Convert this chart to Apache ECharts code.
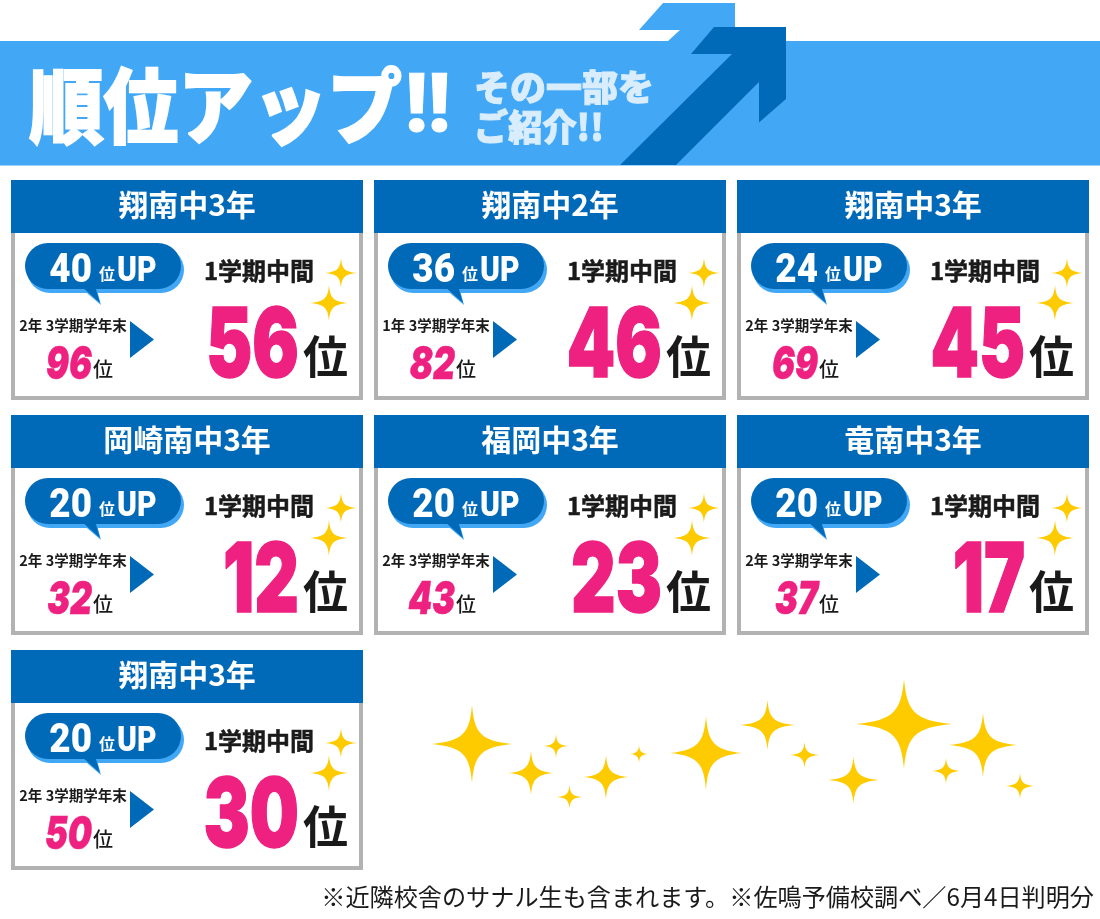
<!DOCTYPE html>
<html>
<head>
<meta charset="utf-8">
<title>順位アップ</title>
<script src="https://cdn.jsdelivr.net/npm/echarts@6/dist/echarts.min.js"></script>
<style>
  html, body { margin: 0; padding: 0; background: #fff; }
  #chart { width: 1100px; height: 919px; }
</style>
</head>
<body>
<div id="chart"></div>
<script>
// card contents
const schools = ['翔南中3年', '翔南中2年', '翔南中3年', '岡崎南中3年', '福岡中3年', '竜南中3年', '翔南中3年'];
const prevTerms = ['2年 3学期学年末', '1年 3学期学年末', '2年 3学期学年末', '2年 3学期学年末', '2年 3学期学年末', '2年 3学期学年末', '2年 3学期学年末'];
const upRanks = [40, 36, 24, 20, 20, 20, 20];
const prevRanks = [96, 82, 69, 32, 43, 37, 50];
const currentRanks = [56, 46, 45, 12, 23, 17, 30];
const currentTerm = '1学期中間';

const titleText = '順位アップ';
const titleMark = '!!';
const subTitleLines = ['その一部を', 'ご紹介!!'];
const footnote = '※近隣校舎のサナル生も含まれます。※佐鳴予備校調べ／6月4日判明分';

const BLUE = '#0069b8';
const LIGHT = '#42a8f6';
const PINK = '#ee2080';
const INK = '#1a1a1a';
const GOLD = '#fecb00';
const PALE = '#d9edfc';
const CJK = '"Noto Sans CJK JP", "Noto Sans", sans-serif';
const NUM = 'Roboto, "Noto Sans CJK JP", sans-serif';
const BIG = 'Inter, Roboto, sans-serif';
const STAR = 'path://M0,-100 C6,-30 20,-8 100,0 C20,8 6,30 0,100 C-6,30 -20,8 -100,0 C-20,-8 -6,-30 0,-100 Z';

// decoration only: [x, y, half width, half height]
const looseStars = [
    [472, 744, 40, 39], [556, 746, 12, 12], [531, 773, 23, 22], [569.5, 797, 12.5, 12],
    [606, 777, 23, 22], [639, 754, 9.5, 9], [706, 753, 36, 37], [767.5, 725, 27, 25],
    [804.5, 755, 14.5, 13], [853.5, 780, 25, 23.5], [904, 724, 48, 45], [983, 745, 34, 32],
    [946, 771, 14, 13], [1020, 786, 14, 13]
];

function cardOrigin(i) {
    return [11 + 363 * (i % 3), 180 + 235 * Math.floor(i / 3)];
}

// sparkles beside the current term label of each card
const cardStars = [];
schools.forEach((s, i) => {
    const o = cardOrigin(i);
    cardStars.push([o[0] + 330, o[1] + 93, 16, 15]);
    cardStars.push([o[0] + 318, o[1] + 123, 19, 18]);
});

function label(x, y, text, font, fill, align, sx, bold) {
    return {
        type: 'text',
        x: x,
        y: y,
        scaleX: sx || 1,
        style: {
            text: text, x: 0, y: 0, font: font, fill: fill,
            stroke: bold ? fill : null, lineWidth: bold || 0,
            align: align || 'center', verticalAlign: 'middle'
        }
    };
}

function poly(points, fill) {
    return { type: 'polygon', shape: { points: points }, style: { fill: fill } };
}

function renderCard(params, api) {
    const i = api.value(0);
    const o = cardOrigin(i);
    const p = api.coord(o);
    const x = p[0];
    const y = p[1];
    const at = (dx, dy) => [x + dx, y + dy];
    const font = (size, weight) => (weight || 700) + ' ' + size + 'px ' + CJK;
    const num = (size) => '900 ' + size + 'px ' + NUM;
    const big = (size, style) => (style ? style + ' ' : '') + '900 ' + size + 'px ' + BIG;

    return {
        type: 'group',
        children: [
            // frame and header
            { type: 'rect', shape: { x: x + 2, y: y + 40, width: 348, height: 178 }, style: { fill: '#fff', stroke: '#b2b2b2', lineWidth: 4 } },
            { type: 'rect', shape: { x: x, y: y, width: 352, height: 53 }, style: { fill: BLUE } },
            label(x + 176, y + 25, schools[i], font(30), '#fff'),

            // speech bubble
            { type: 'rect', shape: { x: x + 16, y: y + 67, width: 157, height: 46, r: 24 }, style: { fill: LIGHT } },
            poly([at(70, 108), at(90, 125), at(86, 110)], LIGHT),
            { type: 'rect', shape: { x: x + 14, y: y + 63, width: 156, height: 46, r: 24 }, style: { fill: BLUE } },
            poly([at(70, 106), at(89, 123), at(84, 106)], BLUE),
            label(x + 81, y + 92, String(upRanks[i]), num(40), '#fff', 'right', 0.92),
            label(x + 88, y + 94, '位', font(16), '#fff', 'left'),
            label(x + 106, y + 92, 'UP', num(35), '#fff', 'left', 0.86),

            // previous rank
            label(x + 62, y + 145, prevTerms[i], font(14.5), INK),
            poly([at(119, 141), at(119, 178), at(143, 159.5)], BLUE),
            label(x + 81, y + 185, String(prevRanks[i]), big(46, 'italic'), PINK, 'right', 0.74, 0.5),
            label(x + 82, y + 189, '位', font(20, 500), INK, 'left'),

            // current rank
            label(x + 248, y + 91, currentTerm, font(24), INK, 'center', 1, 0.5),
            label(x + 288, y + 168, String(currentRanks[i]), big(96), PINK, 'right', 0.72, 1.5),
            label(x + 292, y + 177, '位', font(45), INK, 'left')
        ]
    };
}

function banner(x, y, text, font, fill, sx, bold) {
    return {
        type: 'text', z: 3, x: x, y: y, scaleX: sx || 1,
        style: {
            text: text, font: font, fill: fill, stroke: bold ? fill : null, lineWidth: bold || 0,
            align: 'left', verticalAlign: 'middle'
        }
    };
}

const chart = echarts.init(document.getElementById('chart'));

chart.setOption({
    backgroundColor: '#fff',
    animation: false,
    grid: { left: 0, right: 0, top: 0, bottom: 0 },
    xAxis: { type: 'value', min: 0, max: 1100, show: false },
    yAxis: { type: 'value', min: 0, max: 919, inverse: true, show: false },
    graphic: [
        { type: 'polygon', z: 1, shape: { points: [[663, 3], [735, 3], [735, 41], [668, 41], [680, 30], [639, 30]] }, style: { fill: LIGHT } },
        { type: 'rect', z: 1, shape: { x: 0, y: 41, width: 1100, height: 124.5 }, style: { fill: LIGHT } },
        { type: 'polygon', z: 2, shape: { points: [[714, 27], [786, 27], [786, 99], [759, 122.5], [759, 82], [676, 165], [620, 165], [732, 54], [691, 54]] }, style: { fill: BLUE } },
        banner(29, 106, titleText, '900 82px ' + CJK, '#fff', 0.91, 2),
        banner(405, 110, titleMark, '900 82px ' + NUM, '#fff', 1, 1),
        banner(474, 87, subTitleLines[0], '900 36px ' + CJK, PALE, 1, 1),
        banner(474, 127, subTitleLines[1], '900 36px ' + CJK, PALE, 0.95, 1),
        {
            type: 'text', z: 3, x: 1094, y: 897,
            style: { text: footnote, font: '400 24.15px ' + CJK, fill: INK, align: 'right', verticalAlign: 'middle' }
        }
    ],
    series: [
        {
            type: 'custom',
            silent: true,
            clip: false,
            z: 3,
            renderItem: renderCard,
            data: schools.map((s, i) => [i])
        },
        {
            type: 'scatter',
            silent: true,
            z: 5,
            symbol: STAR,
            symbolKeepAspect: false,
            symbolSize: v => [v[2] * 2, v[3] * 2],
            itemStyle: { color: GOLD, opacity: 1 },
            data: looseStars.concat(cardStars)
        }
    ]
});

window.addEventListener('resize', () => chart.resize());
</script>
</body>
</html>
